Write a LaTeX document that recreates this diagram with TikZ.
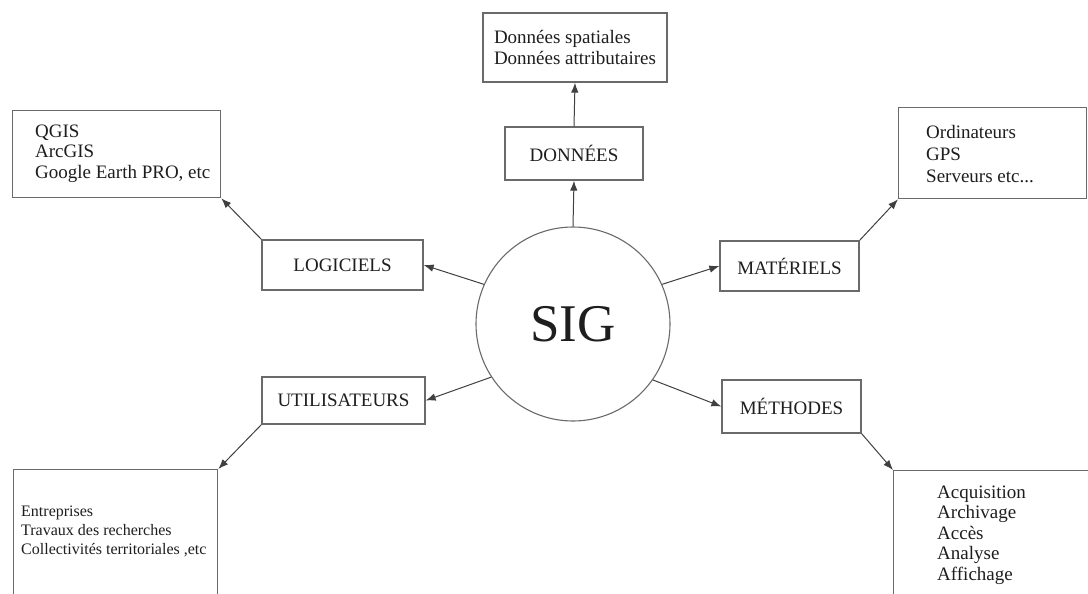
\documentclass[tikz,border=0pt]{standalone}
\usepackage{fontspec}
\setmainfont{Liberation Serif}
\usetikzlibrary{arrows.meta}
\definecolor{boxline}{HTML}{6A6A6A}
\definecolor{arrline}{HTML}{404040}
\definecolor{txt}{HTML}{1E1E1E}
\tikzset{
  catbox/.style={draw=boxline, line width=1.3pt, rectangle, inner sep=0pt, text=txt,
    font=\fontsize{19}{21}\selectfont},
  listbox/.style={draw=boxline, line width=1.3pt, rectangle, inner sep=0pt, anchor=north west},
  listtext/.style={inner sep=0pt, anchor=north west, align=left, text=txt},
  conn/.style={draw=arrline, line width=1pt, -{Latex[length=10pt,width=7.5pt]}},
}
\begin{document}
\begin{tikzpicture}[x=1pt,y=-1pt]
\useasboundingbox (0,0) rectangle (1088,594);
\clip (0,0) rectangle (1088,594);
\fill[white] (0,0) rectangle (1088,594);

% centre
\node[draw=boxline, line width=1.1pt, circle, minimum size=194pt, inner sep=0pt, text=txt,
  font=\fontsize{53}{55}\selectfont] (sig) at (573,324) {SIG};

% category boxes
\node[catbox, minimum width=138pt, minimum height=53pt] (donnees) at (574,153.5) {DONNÉES};
\node[catbox, minimum width=161pt, minimum height=50pt] (logiciels) at (342.5,265) {LOGICIELS};
\node[catbox, minimum width=163pt, minimum height=47pt] (utilisateurs) at (343.5,400.5) {UTILISATEURS};
\node[catbox, minimum width=139pt, minimum height=50pt] (materiels) at (789.5,266) {MATÉRIELS};
\node[catbox, minimum width=139pt, minimum height=53pt] (methodes) at (791.5,406.5) {MÉTHODES};

% detail boxes
\node[catbox, minimum width=184pt, minimum height=69pt, align=left] (dbox) at (575,47.5)
  {Données spatiales\\Données attributaires};

\node[listbox, minimum width=208pt, minimum height=87pt] (logbox) at (12,110) {};
\node[listtext, font=\fontsize{19}{20.5}\selectfont] (logtext) at (35,124.5)
  {QGIS\\ArcGIS\\Google Earth PRO, etc};

\node[listbox, minimum width=188pt, minimum height=91pt] (matbox) at (898,107) {};
\node[listtext, font=\fontsize{19}{22}\selectfont] (mattext) at (926,125.5)
  {Ordinateurs\\GPS\\Serveurs etc...};

\node[listbox, minimum width=204pt, minimum height=160pt] (userbox) at (13,469) {};
\node[listtext, font=\fontsize{16}{19}\selectfont] (usertext) at (21,505.5)
  {Entreprises\\Travaux des recherches\\Collectivités territoriales ,etc};

\node[listbox, minimum width=220pt, minimum height=160pt] (methbox) at (893,470) {};
\node[listtext, font=\fontsize{19}{20.5}\selectfont] (methtext) at (937,485.5)
  {Acquisition\\Archivage\\Accès\\Analyse\\Affichage};

% connectors
\draw[conn] (sig.north) -- (donnees.south);
\draw[conn] (donnees.north) -- (dbox.south);
\draw[conn] (sig.156.6) -- (logiciels.east);
\draw[conn] (logiciels.north west) -- (logbox.south east);
\draw[conn] (sig.213) -- (utilisateurs.east);
\draw[conn] (utilisateurs.south west) -- (userbox.north east);
\draw[conn] (sig.24.7) -- (materiels.west);
\draw[conn] (materiels.north east) -- (matbox.south west);
\draw[conn] (sig.-35) -- (methodes.west);
\draw[conn] (methodes.south east) -- (methbox.north west);
\end{tikzpicture}
\end{document}
